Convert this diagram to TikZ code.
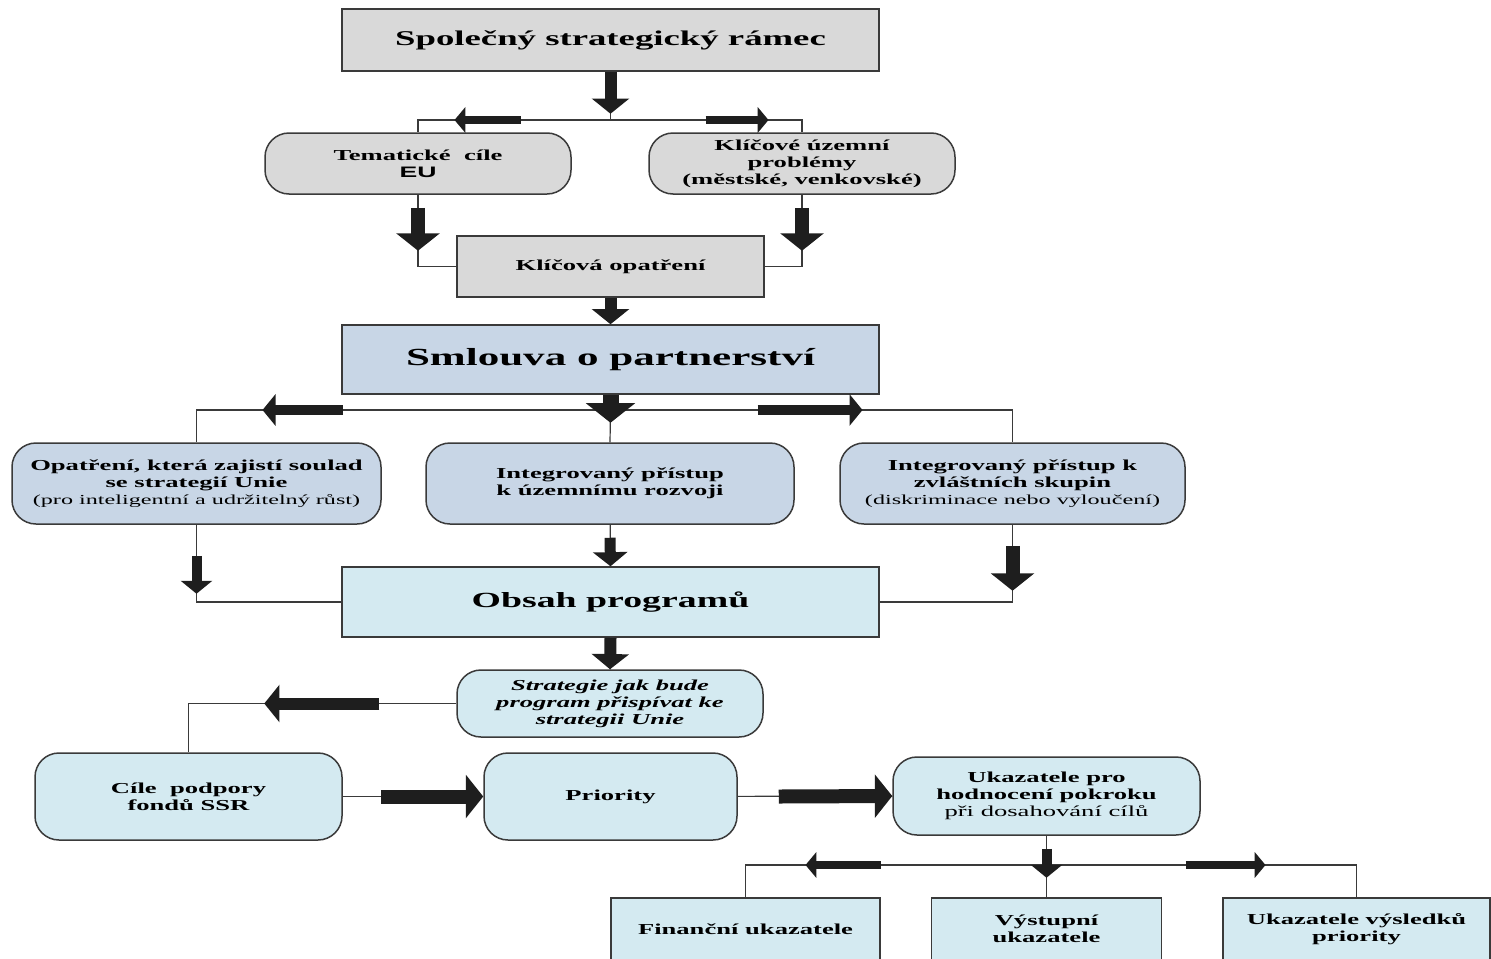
\documentclass[tikz,border=0pt]{standalone}
\usepackage{fontspec}
\setmainfont{Liberation Serif}[FakeStretch=1.75]
\newfontfamily\eusans{Liberation Sans}[FakeStretch=1.75]
\usetikzlibrary{arrows.meta}
\definecolor{sedy}{HTML}{D9D9D9}
\definecolor{modry}{HTML}{C8D6E6}
\definecolor{svetly}{HTML}{D4EAF1}
\definecolor{okraj}{HTML}{3A3A3A}
\definecolor{sipka}{HTML}{1E1E1E}
\tikzset{
  pole/.style 2 args={draw=okraj, line width=0.75pt, align=center, inner sep=0pt,
    minimum width=#1*0.5pt, minimum height=#2*0.5pt,
    font=\fontsize{7.6}{8.5}\selectfont\bfseries},
  oblpole/.style 2 args={pole={#1}{#2}, rounded corners=12pt},
  spoj/.style={draw=okraj, line width=0.6pt},
  blk/.style={draw=sipka, line width=#1, -{Triangle[length=1pt 1.1, width=1pt 2.9]}},
  blk/.default=6pt
}

\begin{document}
\begin{tikzpicture}[x=0.5pt, y=-0.5pt]
    \useasboundingbox (0,0) rectangle (1491,958);
    \clip (0,0) rectangle (1491,958);
    \fill[white] (0,0) rectangle (1491,958);

    \node[pole={537}{62}, fill=sedy, font=\fontsize{10.5}{12}\selectfont\bfseries] (ssr) at (610.5,40) {Společný strategický rámec};
    \node[oblpole={306}{61}, fill=sedy] (tem) at (418,163.5) {Tematické\ \ cíle\\{\eusans EU}};
    \node[oblpole={306}{61}, fill=sedy] (kup) at (802,163.5) {Klíčové územní\\problémy\\(městské, venkovské)};
    \node[pole={307}{61}, fill=sedy] (opa) at (610.5,266.5) {Klíčová opatření};
    \node[pole={537}{69}, fill=modry, font=\fontsize{12.3}{14}\selectfont\bfseries] (smp) at (610.5,359.5) {Smlouva o partnerství};
    \node[oblpole={369}{81}, fill=modry] (sou) at (196.5,483.5) {Opatření, která zajistí soulad\\se strategií Unie\\{\mdseries\fontsize{6.9}{8.5}\selectfont(pro inteligentní a udržitelný růst)}};
    \node[oblpole={368}{81}, fill=modry] (itr) at (610,483.5) {Integrovaný přístup\\k územnímu rozvoji};
    \node[oblpole={345}{81}, fill=modry] (skp) at (1012.5,483.5) {Integrovaný přístup k\\zvláštních skupin\\{\mdseries\fontsize{6.9}{8.5}\selectfont(diskriminace nebo vyloučení)}};
    \node[pole={537}{70}, fill=svetly, font=\fontsize{10.8}{12}\selectfont\bfseries] (obs) at (610.5,602) {Obsah programů};
    \node[oblpole={306}{67}, fill=svetly, font=\fontsize{7.6}{8.5}\selectfont\bfseries\itshape] (str) at (610,703.5) {Strategie jak bude\\program přispívat ke\\strategii Unie};
    \node[oblpole={307}{87}, fill=svetly] (cil) at (188.5,796.5) {Cíle\ \ podpory\\fondů SSR};
    \node[oblpole={253}{87}, fill=svetly] (pri) at (610.5,796.5) {Priority};
    \node[oblpole={307}{78}, fill=svetly] (uk) at (1046.5,796) {Ukazatele pro\\hodnocení pokroku\\{\mdseries při dosahování cílů}};
    \node[pole={269}{62}, fill=svetly] (fin) at (745.5,929) {Finanční ukazatele};
    \node[pole={230}{62}, fill=svetly] (vys) at (1046.5,929) {Výstupní\\ukazatele};
    \node[pole={267}{62}, fill=svetly] (vsl) at (1356.5,929) {Ukazatele výsledků\\priority};

    \coordinate (j1) at (610.5,120);
    \coordinate (j2) at (610.5,410);
    \coordinate (j3) at (1046.5,865);

    % tenke spoje
    \draw[spoj] (ssr.south) -- (j1);
    \draw[spoj] (j1) -| (tem.north);
    \draw[spoj] (j1) -| (kup.north);
    \draw[spoj] (tem.south) |- (opa.west);
    \draw[spoj] (kup.south) |- (opa.east);
    \draw[spoj] (opa) -- (smp);
    \draw[spoj] (smp.south) -- (j2);
    \draw[spoj] (j2) -| (sou.north);
    \draw[spoj] (j2) -- (itr.north);
    \draw[spoj] (j2) -| (skp.north);
    \draw[spoj] (sou.south) |- (obs.west);
    \draw[spoj] (itr) -- (obs);
    \draw[spoj] (skp.south) |- (obs.east);
    \draw[spoj] (obs) -- (str);
    \draw[spoj] (str.west) -| (cil.north);
    \draw[spoj] (cil) -- (pri);
    \draw[spoj] (pri) -- (uk);
    \draw[spoj] (uk.south) -- (j3);
    \draw[spoj] (j3) -| (fin.north);
    \draw[spoj] (j3) -- (vys.north);
    \draw[spoj] (j3) -| (vsl.north);

    % tluste sipky
    \draw[blk] (ssr.south) -- ++(0,42);
    \draw[blk=4pt] (j1) ++(-90,0) -- ++(-66,0);
    \draw[blk=4pt] (j1) ++(95,0) -- ++(63,0);
    \draw[blk=7pt] (tem.south) ++(0,13) -- ++(0,43);
    \draw[blk=7pt] (kup.south) ++(0,13) -- ++(0,43);
    \draw[blk] (opa.south) -- (smp.north);
    \draw[blk=8pt] (smp.south) -- ++(0,28);
    \draw[blk=5pt] (j2) ++(-268,0) -- ++(-80,0);
    \draw[blk=5pt] (j2) ++(147,0) -- ++(105,0);
    \draw[blk=5pt] (sou.south) ++(0,31) -- ++(0,38);
    \draw[blk=5.5pt] (itr.south) ++(0,13) -- (obs.north);
    \draw[blk=7pt] (skp.south) ++(0,21) -- ++(0,45);
    \draw[blk] (obs.south) -- (str.north);
    \draw[blk] (str.west) ++(-77,0) -- ++(-115,0);
    \draw[blk=7pt] (cil.east) ++(38,0) -- (pri.west);
    \draw[blk=7pt] (pri.east) ++(41,0) -- (uk.west);
    \draw[blk=5pt] (uk.south) ++(0,13) -- ++(0,29);
    \draw[blk=4pt] (j3) ++(-166,0) -- ++(-75,0);
    \draw[blk=4pt] (j3) ++(139,0) -- ++(80,0);
\end{tikzpicture}
\end{document}
